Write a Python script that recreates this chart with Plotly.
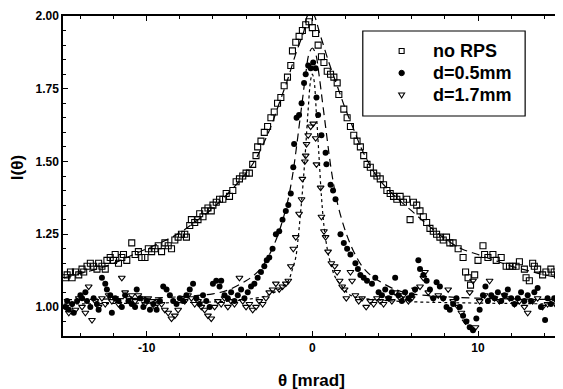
import plotly.graph_objects as go

# ---- data ----
norps_x = [-14.9,-14.8,-14.6,-14.5,-14.3,-14.1,-13.9,-13.8,-13.6,-13.4,-13.2,-13.0,-12.9,-12.7,-12.5,-12.4,-12.2,-12.0,-11.9,-11.7,-11.5,-11.4,-11.2,-10.9,-10.7,-10.5,-10.3,-10.1,-9.9,-9.7,-9.5,-9.3,-9.1,-8.9,-8.7,-8.5,-8.3,-8.1,-7.9,-7.7,-7.6,-7.4,-7.3,-7.1,-6.9,-6.8,-6.6,-6.5,-6.3,-6.1,-6.0,-5.8,-5.6,-5.4,-5.2,-5.0,-4.8,-4.6,-4.4,-4.2,-4.0,-3.8,-3.6,-3.4,-3.3,-3.1,-2.9,-2.7,-2.5,-2.3,-2.1,-1.9,-1.7,-1.5,-1.3,-1.2,-1.0,-0.8,-0.6,-0.4,-0.2,0.0,
           0.2,0.35,0.55,0.7,0.9,1.1,1.3,1.5,1.6,1.9,2.1,2.3,2.5,2.7,2.9,3.1,3.3,3.5,3.7,3.9,4.1,4.3,4.5,4.7,4.9,5.1,5.3,5.5,5.7,5.9,6.1,6.3,6.5,6.7,6.9,7.1,7.3,7.5,7.7,7.9,8.1,8.3,8.5,8.8,9.1,9.25,9.4,9.55,9.8,10.0,10.3,10.4,10.6,10.9,11.1,11.4,11.7,11.9,12.1,12.3,12.5,12.8,12.9,13.1,13.3,13.4,13.6,13.9,14.1,14.4,14.6,14.8]
norps_y = [1.10,1.11,1.12,1.10,1.12,1.11,1.13,1.12,1.14,1.15,1.14,1.13,1.15,1.14,1.13,1.16,1.17,1.16,1.18,1.15,1.17,1.18,1.16,1.22,1.18,1.19,1.17,1.17,1.20,1.19,1.20,1.21,1.19,1.22,1.21,1.20,1.23,1.24,1.25,1.25,1.24,1.28,1.30,1.29,1.30,1.32,1.31,1.33,1.34,1.33,1.35,1.36,1.37,1.37,1.39,1.38,1.40,1.43,1.44,1.45,1.46,1.46,1.49,1.52,1.55,1.57,1.60,1.62,1.65,1.67,1.70,1.72,1.76,1.79,1.83,1.88,1.91,1.93,1.95,1.97,1.98,1.96,
           1.94,1.90,1.86,1.84,1.81,1.80,1.79,1.77,1.73,1.68,1.65,1.62,1.59,1.57,1.55,1.52,1.49,1.48,1.46,1.45,1.44,1.42,1.40,1.39,1.38,1.37,1.38,1.36,1.37,1.30,1.36,1.35,1.33,1.31,1.29,1.27,1.26,1.25,1.24,1.23,1.24,1.22,1.22,1.20,1.17,1.12,1.10,1.075,1.11,1.16,1.21,1.18,1.17,1.18,1.16,1.17,1.14,1.14,1.14,1.14,1.155,1.13,1.10,1.09,1.15,1.14,1.13,1.11,1.12,1.13,1.12,1.11]

d05_x = [-14.9,-14.8,-14.7,-14.5,-14.4,-14.2,-14.0,-13.9,-13.7,-13.6,-13.4,-13.2,-13.0,-12.9,-12.7,-12.5,-12.4,-12.2,-12.1,-11.9,-11.7,-11.5,-11.3,-11.1,-10.9,-10.7,-10.6,-10.4,-10.2,-10.0,-9.8,-9.6,-9.4,-9.2,-9.0,-8.8,-8.6,-8.4,-8.2,-8.0,-7.8,-7.6,-7.4,-7.2,-7.0,-6.8,-6.6,-6.4,-6.2,-6.0,-5.8,-5.6,-5.5,-5.3,-5.1,-4.9,-4.7,-4.5,-4.3,-4.1,-3.9,-3.7,-3.5,-3.3,-3.1,-2.9,-2.75,-2.6,-2.4,-2.2,-2.0,-1.8,-1.6,-1.45,-1.3,-1.15,-1.1,-0.95,-0.8,-0.65,-0.5,-0.4,-0.25,-0.1,0.05,0.2,
         0.25,0.35,0.55,0.8,0.85,1.1,1.25,1.4,1.7,1.9,2.1,2.3,2.6,2.75,2.9,3.1,3.3,3.6,3.8,4.0,4.2,4.4,4.6,4.8,5.0,5.2,5.4,5.6,5.8,6.0,6.2,6.4,6.5,6.7,6.9,7.1,7.3,7.5,7.7,7.9,8.1,8.3,8.5,8.7,8.9,9.1,9.3,9.5,9.7,9.9,10.1,10.3,10.45,10.6,10.8,11.0,11.2,11.4,11.6,11.8,12.0,12.2,12.4,12.6,12.8,13.0,13.2,13.4,13.6,13.8,14.05,14.2,14.4,14.6,14.8]
d05_y = [1.00,1.02,0.99,1.01,0.98,1.02,1.04,1.03,1.05,1.02,1.00,1.03,1.01,0.99,1.10,1.08,1.06,1.04,0.98,1.03,1.02,1.00,1.04,1.02,1.01,1.00,1.06,1.03,1.00,1.02,0.99,1.01,0.99,1.02,1.07,1.06,1.04,1.02,1.01,1.03,1.02,1.04,1.06,1.08,1.03,1.01,1.04,1.02,1.00,1.08,1.09,1.07,1.09,1.04,1.03,1.05,1.02,1.04,1.06,1.03,1.05,1.07,1.08,1.10,1.12,1.14,1.16,1.17,1.20,1.25,1.26,1.30,1.33,1.35,1.39,1.48,1.56,1.65,1.66,1.70,1.77,1.80,1.83,1.82,1.84,1.82,
         1.72,1.66,1.59,1.53,1.49,1.42,1.40,1.37,1.25,1.22,1.20,1.18,1.15,1.13,1.11,1.10,1.09,1.08,1.10,1.05,1.04,1.06,1.03,1.05,1.10,1.04,1.02,1.05,1.03,1.04,1.06,1.16,1.13,1.11,1.09,1.06,1.03,1.085,1.07,1.03,1.00,0.99,1.01,1.03,1.00,0.97,0.95,0.93,0.92,0.96,0.99,1.04,1.07,1.02,1.04,1.03,1.05,1.02,1.04,1.06,1.03,1.01,1.03,1.05,1.02,1.04,1.02,1.05,1.065,1.00,0.955,1.03,1.01,1.03,1.02]

d17_x = [-14.9,-14.7,-14.5,-14.3,-14.1,-13.9,-13.7,-13.5,-13.3,-13.1,-12.9,-12.7,-12.5,-12.3,-12.1,-11.9,-11.7,-11.5,-11.3,-11.1,-10.9,-10.7,-10.5,-10.3,-10.1,-9.9,-9.7,-9.5,-9.3,-9.1,-8.9,-8.7,-8.5,-8.3,-8.1,-7.9,-7.7,-7.5,-7.3,-7.1,-6.9,-6.7,-6.5,-6.3,-6.1,-5.9,-5.7,-5.5,-5.3,-5.1,-4.9,-4.7,-4.4,-4.2,-4.0,-3.8,-3.6,-3.4,-3.2,-3.0,-2.8,-2.6,-2.4,-2.2,-2.0,-1.8,-1.6,-1.45,-1.3,-1.15,-1.0,-0.8,-0.65,-0.6,-0.45,-0.4,-0.35,-0.25,-0.1,0.05,
         0.2,0.25,0.5,0.55,0.7,0.8,0.95,1.15,1.35,1.5,1.65,1.8,1.95,2.05,2.3,2.4,2.6,2.8,3.0,3.25,3.5,3.7,3.9,4.1,4.3,4.6,4.8,5.0,5.3,5.5,5.8,6.0,6.2,6.5,6.7,6.8,7.0,7.3,7.6,7.9,8.2,8.5,8.8,9.0,9.25,9.5,9.7,9.85,10.1,10.4,10.7,11.0,11.3,11.6,11.9,12.2,12.5,12.8,13.0,13.3,13.6,13.9,14.2,14.5,14.8]
d17_y = [1.00,0.98,1.01,0.99,1.03,1.00,0.98,1.07,0.955,1.02,1.00,1.03,1.01,1.04,1.02,1.03,1.01,1.10,1.05,1.03,1.04,1.02,1.04,1.03,1.01,1.03,1.02,1.00,1.02,1.01,0.99,0.98,0.96,0.97,0.99,1.03,1.02,1.04,1.03,1.01,1.02,1.00,0.99,0.97,0.96,1.00,1.02,1.01,1.03,1.00,1.02,1.01,1.10,1.02,1.00,1.01,0.99,1.00,1.02,1.01,1.03,1.05,1.06,1.08,1.06,1.07,1.08,1.09,1.14,1.20,1.24,1.32,1.37,1.44,1.50,1.52,1.56,1.59,1.62,1.63,
         1.58,1.49,1.41,1.31,1.26,1.24,1.19,1.15,1.14,1.12,1.09,1.07,1.06,1.03,1.12,1.09,1.04,1.02,1.03,1.00,1.02,1.01,1.03,1.02,1.01,1.03,1.02,1.05,1.03,1.04,1.02,1.03,1.06,1.07,1.10,1.12,1.05,1.03,1.04,1.03,1.06,1.02,1.00,0.98,0.95,1.05,1.09,0.93,1.02,1.04,1.09,1.03,1.02,1.04,1.03,1.01,1.02,1.00,0.98,1.02,1.03,1.00,1.01,1.02,1.00]

# fit curves
fit_norps_x = [-15,-14,-13,-12,-11,-10,-9,-8,-7,-6,-5,-4,-3.5,-3,-2.5,-2,-1.5,-1,-0.5,-0.3,0,0.5,1,1.5,2,2.5,3,3.5,4,5,6,7,8,9,10,11,12,13,14,15]
fit_norps_y = [1.10,1.115,1.13,1.15,1.175,1.20,1.225,1.255,1.295,1.34,1.395,1.46,1.50,1.555,1.62,1.70,1.78,1.87,1.95,2.00,2.01,1.93,1.84,1.76,1.68,1.61,1.54,1.485,1.44,1.38,1.33,1.28,1.235,1.20,1.18,1.16,1.14,1.125,1.11,1.10]
fit_d05_x = [-15,-10,-8,-6,-5,-4,-3.5,-3,-2.5,-2,-1.5,-1.2,-1,-0.8,-0.6,-0.4,-0.2,0,0.2,0.4,0.6,0.8,1,1.2,1.5,2,2.5,3,3.5,4,5,6,8,10,15]
fit_d05_y = [1.025,1.03,1.035,1.045,1.06,1.09,1.11,1.14,1.19,1.26,1.36,1.45,1.53,1.62,1.71,1.80,1.87,1.89,1.87,1.80,1.71,1.62,1.53,1.45,1.36,1.26,1.19,1.14,1.11,1.09,1.06,1.045,1.035,1.03,1.025]
fit_d17_x = [-15,-8,-5,-3,-2.3,-1.8,-1.45,-1.2,-1.0,-0.85,-0.7,-0.55,-0.4,-0.25,-0.1,0,0.1,0.25,0.4,0.55,0.7,0.9,1.1,1.4,1.8,2.3,3,5,8,15]
fit_d17_y = [1.01,1.015,1.02,1.035,1.05,1.07,1.09,1.13,1.17,1.24,1.33,1.43,1.55,1.68,1.78,1.80,1.78,1.66,1.52,1.38,1.28,1.20,1.15,1.10,1.07,1.04,1.03,1.02,1.015,1.01]

series_names = ["no RPS", "d=0.5mm", "d=1.7mm"]
x_tickvals = [-10, 0, 10]
x_ticktext = ["-10", "0", "10"]
y_tickvals = [1.00, 1.25, 1.50, 1.75, 2.00]
y_ticktext = ["1.00", "1.25", "1.50", "1.75", "2.00"]

FONT = "Arial, 'Liberation Sans', sans-serif"

# figure geometry (page has an 8px body margin)
W, H = 555, 381
ML, MR, MT, MB = 55, 1, 8, 53
PW, PH = W - ML - MR, H - MT - MB

fig = go.Figure()

fig.add_trace(go.Scatter(x=fit_norps_x, y=fit_norps_y, mode="lines", line=dict(color="black", width=1.2, dash="8px,5px", shape="spline"), showlegend=False, hoverinfo="skip"))
fig.add_trace(go.Scatter(x=fit_d05_x, y=fit_d05_y, mode="lines", line=dict(color="black", width=1.2, dash="8px,5px", shape="spline"), showlegend=False, hoverinfo="skip"))
fig.add_trace(go.Scatter(x=fit_d17_x, y=fit_d17_y, mode="lines", line=dict(color="black", width=1.2, dash="3px,3px", shape="spline"), showlegend=False, hoverinfo="skip"))

fig.add_trace(go.Scatter(x=norps_x, y=norps_y, mode="markers", name=series_names[0], showlegend=False,
                         marker=dict(symbol="square-open", size=6, color="black", line=dict(width=1.1, color="black"))))
fig.add_trace(go.Scatter(x=d05_x, y=d05_y, mode="markers", name=series_names[1], showlegend=False,
                         marker=dict(symbol="circle", size=6, color="black")))
fig.add_trace(go.Scatter(x=d17_x, y=d17_y, mode="markers", name=series_names[2], showlegend=False,
                         marker=dict(symbol="triangle-down-open", size=6, color="black", line=dict(width=1.1, color="black"))))

axis_common = dict(showgrid=False, zeroline=False, showline=True, linecolor="black", linewidth=1.5,
                   mirror="allticks", ticks="inside", ticklen=5, tickwidth=1, tickcolor="black",
                   tickfont=dict(family=FONT, size=12, color="black", weight="bold"))

fig.update_xaxes(range=[-15.05, 14.95], tickvals=x_tickvals, ticktext=x_ticktext,
                 minor=dict(dtick=2, tick0=0, ticks="inside", ticklen=3, tickcolor="black"), **axis_common)
fig.update_yaxes(range=[0.90, 2.00], tickvals=y_tickvals, ticktext=y_ticktext,
                 minor=dict(dtick=0.05, tick0=1.0, ticks="inside", ticklen=3, tickcolor="black"), **axis_common)

# ---- manual legend (box, symbols, labels) in paper coords ----
def px2paper(px, py):
    """page-pixel (relative to plot area top-left) to paper coordinates"""
    return px / PW, 1 - py / PH

shapes = []
annotations = []
bx0, by0 = px2paper(364 - 63, 31 - 16)
bx1, by1 = px2paper(527 - 63, 116 - 16)
shapes.append(dict(type="rect", xref="paper", yref="paper", x0=bx0, y0=by1, x1=bx1, y1=by0,
                   line=dict(color="black", width=1.2), fillcolor="white", layer="above"))
row_y = [51, 73, 95]
mx = 403 - 63
for i, (name, ry) in enumerate(zip(series_names, row_y)):
    ry = ry - 16
    if i == 0:
        x0, y0 = px2paper(mx - 2.5, ry - 2.5)
        x1, y1 = px2paper(mx + 2.5, ry + 2.5)
        shapes.append(dict(type="rect", xref="paper", yref="paper", x0=x0, y0=y1, x1=x1, y1=y0,
                           line=dict(color="black", width=1.1), fillcolor="white", layer="above"))
    elif i == 1:
        x0, y0 = px2paper(mx - 2.7, ry - 2.7)
        x1, y1 = px2paper(mx + 2.7, ry + 2.7)
        shapes.append(dict(type="circle", xref="paper", yref="paper", x0=x0, y0=y1, x1=x1, y1=y0,
                           line=dict(color="black", width=1), fillcolor="black", layer="above"))
    else:
        a = px2paper(mx - 3, ry - 2)
        b = px2paper(mx + 3, ry - 2)
        c = px2paper(mx, ry + 3)
        shapes.append(dict(type="path", xref="paper", yref="paper",
                           path=f"M {a[0]} {a[1]} L {b[0]} {b[1]} L {c[0]} {c[1]} Z",
                           line=dict(color="black", width=1.1), fillcolor="white", layer="above"))
    tx, ty = px2paper(432 - 63, ry)
    annotations.append(dict(text=name, xref="paper", yref="paper", x=tx, y=ty, xanchor="left", yanchor="middle",
                            showarrow=False, font=dict(family=FONT, size=18, color="black", weight="bold")))

annotations.append(dict(text="θ [mrad]", xref="paper", yref="paper", x=(312 - 63) / PW, y=1 - (380 - 16) / PH,
                        xanchor="center", yanchor="middle", showarrow=False,
                        font=dict(family=FONT, size=17, color="black", weight="bold")))
annotations.append(dict(text="I(θ)", xref="paper", yref="paper", x=(17 - 63) / PW, y=1 - (168 - 16) / PH,
                        xanchor="center", yanchor="middle", textangle=-90, showarrow=False,
                        font=dict(family=FONT, size=17, color="black", weight="bold")))

fig.update_layout(
    width=W, height=H,
    margin=dict(l=ML, r=MR, t=MT, b=MB),
    paper_bgcolor="white", plot_bgcolor="white",
    font=dict(family=FONT, color="black"),
    showlegend=False,
    shapes=shapes,
    annotations=annotations,
)

fig.write_html("out.html")
